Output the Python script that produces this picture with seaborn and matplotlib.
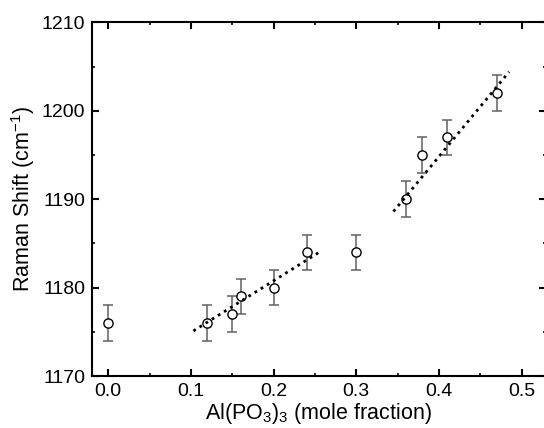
import matplotlib
matplotlib.use("Agg")
import matplotlib.pyplot as plt
from matplotlib.ticker import MultipleLocator, FixedLocator, FixedFormatter
import seaborn as sns
import pandas as pd

# ---- data ----
mole_fraction = [0.00, 0.12, 0.15, 0.16, 0.20, 0.24, 0.30, 0.36, 0.38, 0.41, 0.47]
raman_shift = [1176, 1176, 1177, 1179, 1180, 1184, 1184, 1190, 1195, 1197, 1202]
shift_error = [2, 2, 2, 2, 2, 2, 2, 2, 2, 2, 2]

fit_low_x = [0.103, 0.257]
fit_low_y = [1175.1, 1184.1]
fit_high_x = [0.345, 0.485]
fit_high_y = [1188.6, 1204.4]

x_ticks = [0.0, 0.1, 0.2, 0.3, 0.4, 0.5]
x_tick_labels = ["0.0", "0.1", "0.2", "0.3", "0.4", "0.5"]
y_ticks = [1170, 1180, 1190, 1200, 1210]
y_tick_labels = ["1170", "1180", "1190", "1200", "1210"]

df = pd.DataFrame({"x": mole_fraction, "y": raman_shift, "err": shift_error})

sns.set_style("ticks")
plt.rcParams["font.family"] = ["Liberation Sans", "DejaVu Sans"]
plt.rcParams["mathtext.fontset"] = "custom"
plt.rcParams["mathtext.rm"] = "Liberation Sans"
plt.rcParams["mathtext.it"] = "Liberation Sans"
plt.rcParams["mathtext.default"] = "regular"
plt.rcParams["text.color"] = "black"
plt.rcParams["axes.labelcolor"] = "black"

W, H = 544, 428
fig = plt.figure(figsize=(W / 100, H / 100), dpi=100)
left, right, top, bottom = 92, 545.5, 22.3, 376
ax = fig.add_axes([left / W, 1 - bottom / H, (right - left) / W, (bottom - top) / H])

# error bars
ax.errorbar(df["x"], df["y"], yerr=df["err"], fmt="none", ecolor="#606060",
            elinewidth=1.1, capsize=3.4, capthick=1.1, zorder=2)

# points
sns.scatterplot(data=df, x="x", y="y", ax=ax, marker="o", s=44,
                facecolor="white", edgecolor="black", linewidth=1.0, zorder=3)

# fit lines
sns.lineplot(x=fit_low_x, y=fit_low_y, ax=ax, color="black", linewidth=2.0,
             linestyle=(0, (1, 1.6)), zorder=4)
sns.lineplot(x=fit_high_x, y=fit_high_y, ax=ax, color="black", linewidth=2.0,
             linestyle=(0, (1, 1.6)), zorder=4)

ax.set_xlim(-0.0197, 0.529)
ax.set_ylim(1170, 1210)
ax.xaxis.set_major_locator(FixedLocator(x_ticks))
ax.xaxis.set_major_formatter(FixedFormatter(x_tick_labels))
ax.yaxis.set_major_locator(FixedLocator(y_ticks))
ax.yaxis.set_major_formatter(FixedFormatter(y_tick_labels))
ax.xaxis.set_minor_locator(MultipleLocator(0.05))
ax.yaxis.set_minor_locator(MultipleLocator(5))

ax.tick_params(which="both", direction="in", top=True, right=True,
               labelsize=14, colors="black")
ax.tick_params(which="major", length=4.8, width=1.5, pad=5)
ax.tick_params(which="minor", length=2.2, width=1.2)
for s in ax.spines.values():
    s.set_visible(True)
    s.set_linewidth(1.5)
    s.set_color("black")

ax.set_xlabel("Al(PO$_3$)$_3$ (mole fraction)", fontsize=15.5, labelpad=1, color="black")
ax.set_ylabel("Raman Shift (cm$^{-1}$)", fontsize=15.5, labelpad=3, color="black")

fig.savefig("out.png", dpi=100)
